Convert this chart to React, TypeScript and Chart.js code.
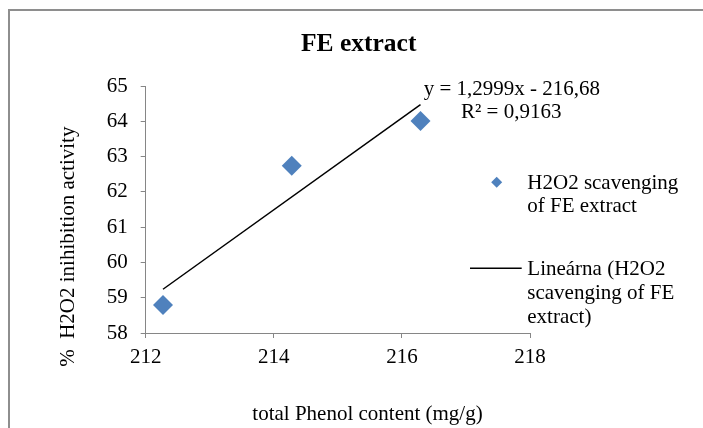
import React, { useEffect, useRef } from "react";
import { Chart, registerables } from "chart.js";

Chart.register(...registerables);

// ---- data ----
const totalPhenol = [212.27, 214.28, 216.29];
const inhibition = [58.79, 62.74, 64.01];
const trendX = [212.27, 216.29];
const trendY = [59.24, 64.47];
const xTicks = [212, 214, 216, 218];
const yTicks = [58, 59, 60, 61, 62, 63, 64, 65];

// ---- text ----
const chartTitle = "FE extract";
const xTitle = "total Phenol content (mg/g)";
const yTitle = "%  H2O2 inihibition activity";
const seriesLabel = ["H2O2 scavenging", "of FE extract"];
const trendLabel = ["Lineárna (H2O2", "scavenging of FE", "extract)"];
const equationLines = ["y = 1,2999x - 216,68", "R² = 0,9163"];

const FAMILY = '"Liberation Serif", "Times New Roman", Times, serif';
const BLUE = "#4F81BD";
const AXIS = "#868686";

const decorPlugin = {
  id: "decor",
  beforeDraw(chart: any) {
    const ctx = chart.ctx;
    ctx.save();
    ctx.fillStyle = "#ffffff";
    ctx.fillRect(0, 0, chart.width, chart.height);
    ctx.strokeStyle = "#8e8e8e";
    ctx.lineWidth = 2;
    ctx.beginPath();
    ctx.moveTo(9, chart.height + 5);
    ctx.lineTo(9, 10);
    ctx.lineTo(chart.width + 5, 10);
    ctx.stroke();
    ctx.restore();
  },
  afterDraw(chart: any) {
    const ctx = chart.ctx;
    const ca = chart.chartArea;
    ctx.save();
    ctx.fillStyle = "#000";
    ctx.textBaseline = "middle";

    // title
    ctx.textAlign = "center";
    ctx.font = `bold 25.5px ${FAMILY}`;
    ctx.fillText(chartTitle, 358.7, 44.7);

    // axis titles
    ctx.font = `21px ${FAMILY}`;
    ctx.fillText(xTitle, 367.5, 414.5);
    ctx.save();
    ctx.translate(68.5, 246.7);
    ctx.rotate(-Math.PI / 2);
    ctx.fillText(yTitle, 0, 0);
    ctx.restore();

    // equation
    ctx.fillText(equationLines[0], 511.9, 89.3);
    ctx.fillText(equationLines[1], 511.2, 112.3);

    // legend
    const lx = ca.right - 2.7;
    ctx.textAlign = "left";
    seriesLabel.forEach((t, i) => ctx.fillText(t, lx, 183 + i * 23.5));
    trendLabel.forEach((t, i) => ctx.fillText(t, lx, 269 + i * 24));

    // legend diamond
    const dx = ca.right - 33.3;
    const dy = 182.3;
    const r = 5.5;
    ctx.fillStyle = BLUE;
    ctx.beginPath();
    ctx.moveTo(dx - r, dy);
    ctx.lineTo(dx, dy - r);
    ctx.lineTo(dx + r, dy);
    ctx.lineTo(dx, dy + r);
    ctx.closePath();
    ctx.fill();

    // legend line
    ctx.strokeStyle = "#000";
    ctx.lineWidth = 1.5;
    ctx.beginPath();
    ctx.moveTo(ca.right - 60, 268.3);
    ctx.lineTo(ca.right - 8.3, 268.3);
    ctx.stroke();
    ctx.restore();
  },
};

export default function App() {
  const ref = useRef<HTMLCanvasElement | null>(null);

  useEffect(() => {
    if (!ref.current) return;
    const chart = new Chart(ref.current, {
      type: "scatter",
      data: {
        datasets: [
          {
            type: "line",
            label: trendLabel.join(" "),
            data: trendX.map((x, i) => ({ x, y: trendY[i] })),
            borderColor: "#000",
            borderWidth: 1.5,
            pointRadius: 0,
            showLine: true,
            fill: false,
            order: 2,
          } as any,
          {
            type: "scatter",
            label: seriesLabel.join(" "),
            data: totalPhenol.map((x, i) => ({ x, y: inhibition[i] })),
            pointStyle: "rectRot",
            pointRadius: 10,
            pointBackgroundColor: BLUE,
            pointBorderColor: BLUE,
            pointBorderWidth: 0,
            order: 1,
          } as any,
        ],
      },
      options: {
        responsive: false,
        animation: false,
        layout: { padding: { left: 85.7, top: 86, right: 173, bottom: 55 } },
        plugins: {
          legend: { display: false },
          title: { display: false },
          tooltip: { enabled: false },
        },
        scales: {
          x: {
            type: "linear",
            min: xTicks[0],
            max: xTicks[xTicks.length - 1],
            afterBuildTicks: (s: any) => {
              s.ticks = xTicks.map((v) => ({ value: v }));
            },
            afterFit: (s: any) => {
              s.height = 40;
            },
            grid: {
              drawOnChartArea: false,
              drawTicks: true,
              tickLength: 5,
              color: AXIS,
              lineWidth: 1,
            },
            border: { display: true, color: AXIS, width: 1 },
            ticks: {
              padding: 7,
              color: "#000",
              font: { family: FAMILY, size: 21 },
              maxRotation: 0,
            },
          },
          y: {
            type: "linear",
            min: yTicks[0],
            max: yTicks[yTicks.length - 1],
            afterBuildTicks: (s: any) => {
              s.ticks = yTicks.map((v) => ({ value: v }));
            },
            afterFit: (s: any) => {
              s.width = 60;
            },
            grid: {
              drawOnChartArea: false,
              drawTicks: true,
              tickLength: 5,
              color: AXIS,
              lineWidth: 1,
            },
            border: { display: true, color: AXIS, width: 1 },
            ticks: {
              padding: 13,
              color: "#000",
              font: { family: FAMILY, size: 21 },
            },
          },
        },
      },
      plugins: [decorPlugin],
    } as any);
    return () => chart.destroy();
  }, []);

  return (
    <div style={{ position: "absolute", left: 0, top: 0, width: 703, height: 428 }}>
      <canvas ref={ref} width={703} height={428} style={{ display: "block" }} />
    </div>
  );
}
